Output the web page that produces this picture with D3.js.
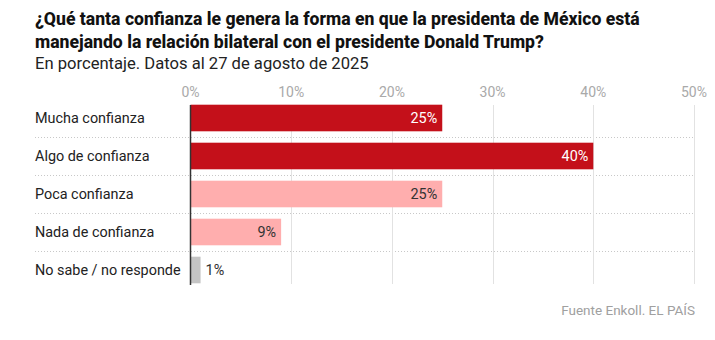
<!DOCTYPE html>
<html><head><meta charset="utf-8">
<script src="https://cdn.jsdelivr.net/npm/d3@7"></script>
<style>body{margin:0;background:#fff;} svg{display:block;font-family:Roboto, "Liberation Sans", sans-serif;}</style>
</head><body><svg id="c" width="715" height="340"></svg>
<script>
const categories = ["Mucha confianza","Algo de confianza","Poca confianza","Nada de confianza","No sabe / no responde"];
const values = [25, 40, 25, 9, 1];
const colors = ["#c4101a","#c4101a","#ffaeae","#ffaeae","#c4c4c4"];
const labelColors = ["#ffffff","#ffffff","#333333","#333333","#333333"];
const ticks = [0,10,20,30,40,50];
const titleLines = ["¿Qué tanta confianza le genera la forma en que la presidenta de México está","manejando la relación bilateral con el presidente Donald Trump?"];
const subtitle = "En porcentaje. Datos al 27 de agosto de 2025";
const source = "Fuente Enkoll. EL PAÍS";

const svg = d3.select("#c");
const x = d3.scaleLinear().domain([0,50]).range([190.5,694]);
const y = d3.scaleBand().domain(categories).range([99,289]).paddingInner(0.3).paddingOuter(0.15);

svg.selectAll("text.title").data(titleLines).join("text")
  .attr("x",35).attr("y",(d,i)=>25+i*23)
  .attr("font-size",17.6).attr("font-weight",800).attr("fill","#111").text(d=>d);
svg.append("text").attr("x",35).attr("y",69).attr("font-size",16.6).attr("fill","#222").text(subtitle);

// separators
const seps = categories.slice(1);
svg.selectAll("line.sep").data(seps).join("line")
  .attr("x1",35).attr("x2",694)
  .attr("y1",d=>Math.round(y(d)-y.step()*y.paddingInner()/2)+0.5)
  .attr("y2",d=>Math.round(y(d)-y.step()*y.paddingInner()/2)+0.5)
  .attr("stroke","#c8c8c8").attr("stroke-dasharray","1,2");

// grid
svg.selectAll("line.grid").data(ticks.slice(1)).join("line")
  .attr("x1",d=>Math.round(x(d))+0.5).attr("x2",d=>Math.round(x(d))+0.5)
  .attr("y1",105).attr("y2",284).attr("stroke","#e2e2e2");

svg.selectAll("text.tick").data(ticks).join("text")
  .attr("x",d=>x(d)).attr("y",97).attr("text-anchor","middle")
  .attr("font-size",14).attr("fill","#a9a9a9").text(d=>d+"%");

svg.selectAll("rect.bar").data(values).join("rect")
  .attr("x",x(0)).attr("y",(d,i)=>y(categories[i]))
  .attr("width",d=>x(d)-x(0)).attr("height",y.bandwidth())
  .attr("fill",(d,i)=>colors[i]);

svg.append("line").attr("x1",190.5).attr("x2",190.5).attr("y1",105).attr("y2",285).attr("stroke","#333").attr("stroke-width",1.5);

svg.selectAll("text.cat").data(categories).join("text")
  .attr("x",35).attr("y",d=>y(d)+y.bandwidth()/2+5)
  .attr("font-size",14.4).attr("fill","#222").text(d=>d);

svg.selectAll("text.val").data(values).join("text")
  .attr("x",d=> d<3 ? x(d)+5 : x(d)-5)
  .attr("text-anchor",d=> d<3 ? "start":"end")
  .attr("y",(d,i)=>y(categories[i])+y.bandwidth()/2+5)
  .attr("font-size",14.4).attr("fill",(d,i)=>labelColors[i]).text(d=>d+"%");

svg.append("text").attr("x",695).attr("y",315).attr("text-anchor","end")
  .attr("font-size",13.5).attr("fill","#a0a0a0").text(source);
</script></body></html>
